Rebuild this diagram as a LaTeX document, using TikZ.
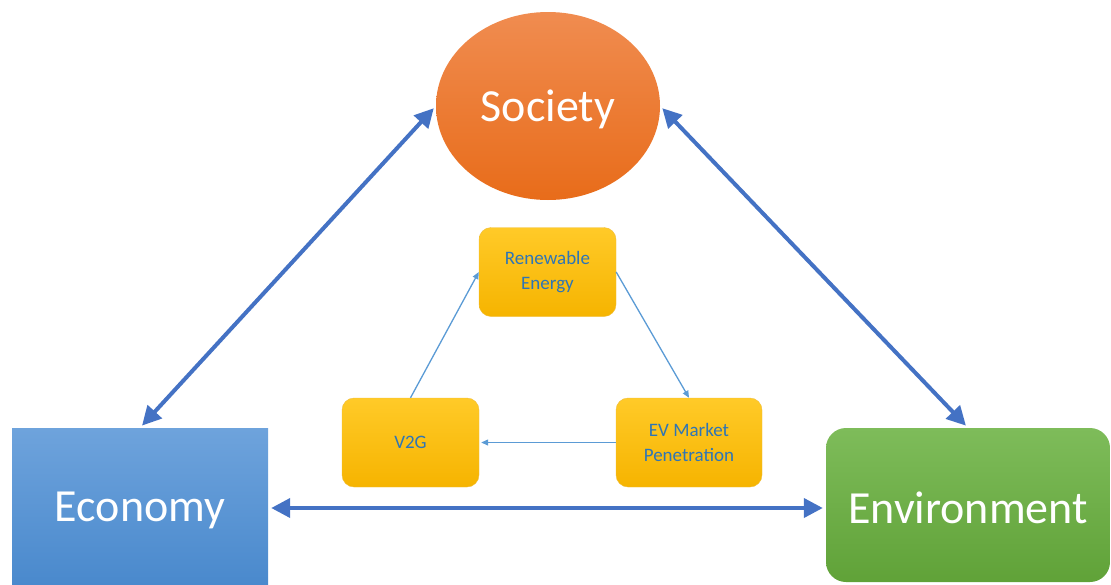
\documentclass[tikz,border=0pt]{standalone}
\usepackage{fontspec}
\setmainfont{Carlito}
\usetikzlibrary{arrows.meta,shapes.geometric}
\definecolor{bigarrow}{RGB}{68,114,196}
\definecolor{smallarrow}{RGB}{91,155,213}
\definecolor{smalltext}{RGB}{46,117,182}
\tikzset{
  bigbox/.style={inner sep=0pt, text=white, font=\fontsize{46}{50}\selectfont},
  goldbox/.style={rounded corners=12pt, inner sep=0pt, minimum width=137pt, minimum height=89pt,
    top color={rgb,255:red,255;green,202;blue,40}, bottom color={rgb,255:red,246;green,180;blue,0},
    draw={rgb,255:red,240;green,190;blue,60}, line width=0.4pt,
    text=smalltext, align=center, font=\fontsize{19}{25}\selectfont},
  bigarr/.style={draw=bigarrow, line width=4pt, {Triangle[length=19pt,width=19pt]}-{Triangle[length=19pt,width=19pt]}, shorten <=3pt, shorten >=3pt},
  smallarr/.style={draw=smallarrow, line width=1.3pt, -{Triangle[length=7pt,width=6pt]}}
}
\begin{document}
\begin{tikzpicture}[x=1pt,y=-1pt]
\useasboundingbox (0,0) rectangle (1111,584);
% Society
\node[bigbox, ellipse, minimum width=224pt, minimum height=188pt,
  top color={rgb,255:red,240;green,140;blue,80}, bottom color={rgb,255:red,232;green,108;blue,26}]
  (soc) at (548,106) {\raisebox{-3pt}[\height][\depth]{Society}};
% Economy
\node[bigbox, rectangle, minimum width=256pt, minimum height=164pt,
  top color={rgb,255:red,110;green,163;blue,220}, bottom color={rgb,255:red,72;green,136;blue,204}]
  (eco) at (140,510) {Economy};
% Environment
\node[bigbox, rectangle, rounded corners=20pt, minimum width=284pt, minimum height=154pt,
  top color={rgb,255:red,126;green,188;blue,90}, bottom color={rgb,255:red,96;green,162;blue,56}]
  (env) at (968,505) {\raisebox{-3pt}[\height][\depth]{Environment}};
% small boxes
\node[goldbox] (ren) at (547.5,272) {Renewable\\Energy};
\node[goldbox] (v2g) at (410.5,442.5) {V2G};
\node[goldbox, minimum width=146pt] (ev) at (689,442.5) {EV Market\\Penetration};
\coordinate (hline) at (0,508);
% big arrows
\draw[bigarr] (soc.west) -- (eco.north);
\draw[bigarr] (soc.east) -- (env.north);
\draw[bigarr] (eco.east |- hline) -- (env.west |- hline);
% small arrows
\draw[smallarr] (v2g.north) -- (ren.west);
\draw[smallarr] (ren.east) -- (ev.north);
\draw[smallarr] (ev.west) -- ([xshift=2pt]v2g.east);
\end{tikzpicture}
\end{document}
